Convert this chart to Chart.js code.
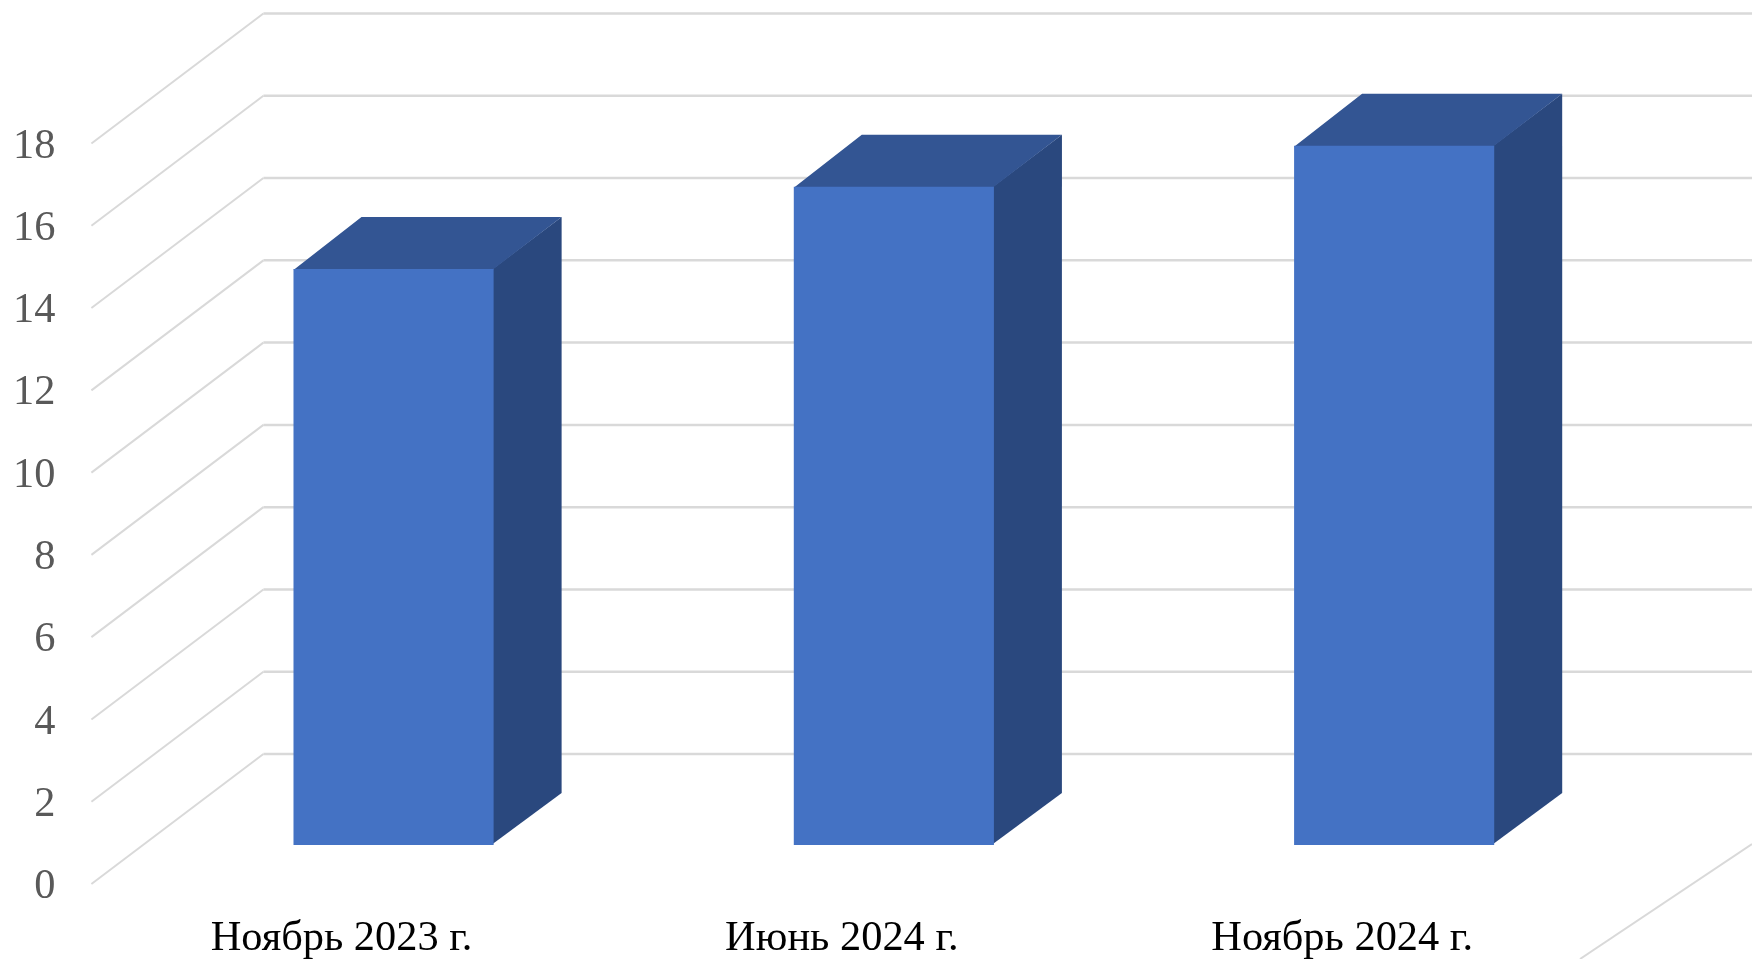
<!DOCTYPE html>
<html>
<head>
<meta charset="utf-8">
<script src="https://cdn.jsdelivr.net/npm/chart.js@4"></script>
<style>
  html, body { margin: 0; padding: 0; background: #fff; overflow: hidden; }
  canvas { display: block; }
</style>
</head>
<body>
<canvas id="chart-bar" width="1752" height="959"></canvas>
<script>
const categories = ["Ноябрь 2023 г.", "Июнь 2024 г.", "Ноябрь 2024 г."];
const seriesValues = [14, 16, 17];
const tickValues = [0, 2, 4, 6, 8, 10, 12, 14, 16, 18];

// fake 3d, the pseudo perspective of the office chart
const wallDepth = { dx: 172, dy: 130 };
const barDepth = { dx: 68, dy: 52 };
const planeShift = { dx: 52, dy: 39 };

const face = (ctx, color, pts) => {
  ctx.fillStyle = color;
  ctx.beginPath();
  pts.forEach((p, i) => i ? ctx.lineTo(p[0], p[1]) : ctx.moveTo(p[0], p[1]));
  ctx.closePath();
  ctx.fill();
};

const fake3d = {
  id: "fake3d",
  beforeDatasetsDraw(chart) {
    const { ctx, chartArea, scales, width, height } = chart;
    ctx.save();
    ctx.strokeStyle = "#d9d9d9";
    tickValues.forEach(v => {
      const fx = chartArea.left - planeShift.dx;
      const fy = scales.y.getPixelForValue(v) + planeShift.dy;
      ctx.lineWidth = 2;
      ctx.beginPath();
      ctx.moveTo(fx, fy);
      ctx.lineTo(fx + wallDepth.dx, fy - wallDepth.dy);
      ctx.stroke();
      ctx.lineWidth = 2.5;
      ctx.beginPath();
      ctx.moveTo(fx + wallDepth.dx, fy - wallDepth.dy);
      ctx.lineTo(width, fy - wallDepth.dy);
      ctx.stroke();
    });
    // floor edge in the bottom right corner
    ctx.lineWidth = 2;
    ctx.beginPath();
    ctx.moveTo(width, height - 115);
    ctx.lineTo(width - 172, height);
    ctx.stroke();

    chart.getDatasetMeta(0).data.forEach(bar => {
      const l = bar.x - bar.width / 2;
      const r = bar.x + bar.width / 2;
      // side first, then top, both tucked 1px under the front face to hide the seams
      face(ctx, "#2a487e", [[r - 1, bar.y], [r + barDepth.dx, bar.y - barDepth.dy], [r + barDepth.dx, bar.base - barDepth.dy], [r - 1, bar.base - 1]]);
      face(ctx, "#335593", [[l, bar.y + 1], [l + barDepth.dx, bar.y - barDepth.dy], [r + barDepth.dx, bar.y - barDepth.dy], [r, bar.y], [r, bar.y + 1]]);
    });
    ctx.restore();
  }
};

new Chart(document.getElementById("chart-bar"), {
  type: "bar",
  data: {
    labels: categories,
    datasets: [{
      data: seriesValues,
      backgroundColor: "#4472c4",
      barPercentage: 0.4,
      categoryPercentage: 1
    }]
  },
  options: {
    responsive: false,
    animation: false,
    layout: { padding: { top: 104.5, right: 107.7, bottom: 0, left: 0 } },
    plugins: { legend: { display: false }, tooltip: { enabled: false } },
    scales: {
      x: {
        grid: { display: false },
        border: { display: false },
        afterFit: axis => { axis.height = 114; },
        ticks: {
          color: "#000",
          font: { family: "Liberation Serif", size: 42.4 },
          labelOffset: -52,
          padding: 60,
          maxRotation: 0,
          autoSkip: false
        }
      },
      y: {
        min: 0,
        max: 18,
        grid: { display: false },
        border: { display: false },
        afterBuildTicks: axis => { axis.ticks = tickValues.map(v => ({ value: v })); },
        afterFit: axis => { axis.width = 143.4; axis.paddingTop = 0; axis.paddingBottom = 0; },
        ticks: {
          color: "#595959",
          font: { family: "Liberation Serif", size: 42.4 },
          labelOffset: 42,
          padding: 80
        }
      }
    }
  },
  plugins: [fake3d]
});
</script>
</body>
</html>
